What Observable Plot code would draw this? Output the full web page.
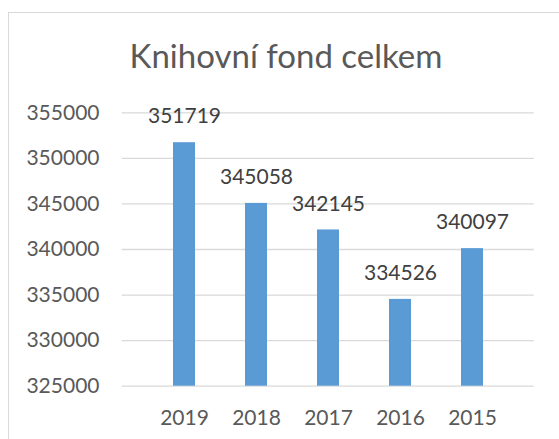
<!DOCTYPE html>
<html>
<head>
<meta charset="utf-8">
<script src="https://cdn.jsdelivr.net/npm/d3@7"></script>
<script src="https://cdn.jsdelivr.net/npm/@observablehq/plot@0.6"></script>
<style>
  html, body { margin: 0; padding: 0; background: #fff; overflow: hidden; }
  #wrap { position: relative; width: 559px; height: 439px; }
  #title { position: absolute; left: 0; top: 0; pointer-events: none; }
  #border { position: absolute; left: 8px; top: 12px; width: 700px; height: 600px;
            border: 1px solid #d9d9d9; pointer-events: none; }
</style>
</head>
<body>
<div id="wrap">
  <div id="chart"></div>
  <svg id="title" width="559" height="100">
    <text x="286" y="67.5" text-anchor="middle" font-family="Lato, sans-serif" font-size="33" fill="#595959">Knihovní fond celkem</text>
  </svg>
  <div id="border"></div>
</div>
<script>
const years = ["2019", "2018", "2017", "2016", "2015"];
const values = [351719, 345058, 342145, 334526, 340097];
const yTicks = [325000, 330000, 335000, 340000, 345000, 350000, 355000];

const data = years.map((y, i) => ({year: y, value: values[i]}));

const chart = Plot.plot({
  width: 559,
  height: 439,
  marginLeft: 121.7,
  marginRight: 25.3,
  marginTop: 112.3,
  marginBottom: 53.3,
  style: {fontFamily: "Lato, sans-serif", fontSize: "21px", color: "#595959", background: "transparent"},
  x: {domain: years, padding: 0.69, label: null},
  y: {domain: [yTicks[0], yTicks[yTicks.length - 1]], label: null},
  marks: [
    Plot.gridY(yTicks, {stroke: "#d9d9d9", strokeOpacity: 1, strokeWidth: 1.3}),
    Plot.axisY(yTicks, {tickSize: 0, tickPadding: 22.7, tickFormat: d => String(d), label: null}),
    Plot.axisX({tickSize: 0, tickPadding: 24, label: null}),
    Plot.barY(data, {x: "year", y1: () => yTicks[0], y2: "value", fill: "#5B9BD5"}),
    Plot.text(data, {x: "year", y: "value", text: d => String(d.value), dy: -26, fill: "#404040", fontSize: 21})
  ]
});
document.getElementById("chart").appendChild(chart);
</script>
</body>
</html>
